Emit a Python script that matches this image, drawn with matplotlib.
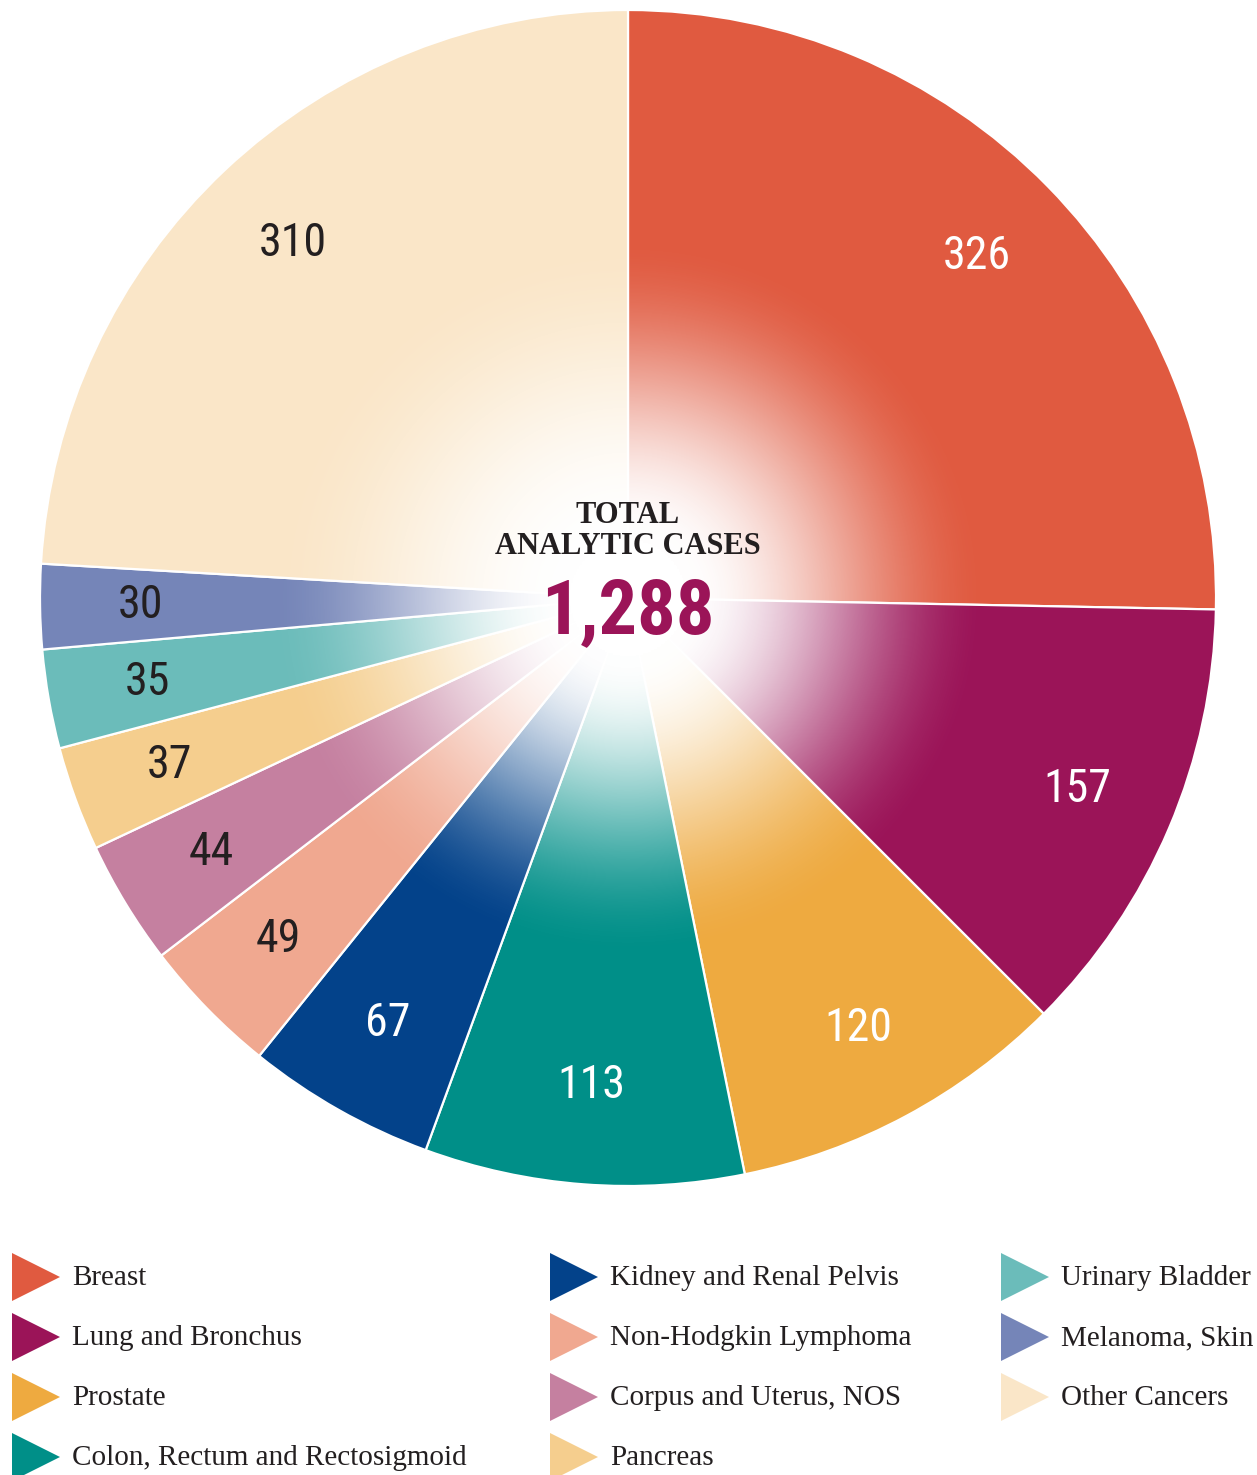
"""Total analytic cases by site: pie with white radial glow and triangle legend."""
import numpy as np
import matplotlib
matplotlib.use("Agg")
import matplotlib.pyplot as plt
from matplotlib import font_manager
from matplotlib.patches import Polygon, Circle

SITES = ["Breast", "Lung and Bronchus", "Prostate", "Colon, Rectum and Rectosigmoid",
         "Kidney and Renal Pelvis", "Non-Hodgkin Lymphoma", "Corpus and Uterus, NOS",
         "Pancreas", "Urinary Bladder", "Melanoma, Skin", "Other Cancers"]
CASES = [326, 157, 120, 113, 67, 49, 44, 37, 35, 30, 310]
COLORS = ["#E05A40", "#9B1458", "#EEAA40", "#008F88", "#03428A", "#F0A890",
          "#C580A0", "#F5CE8E", "#6BBCBA", "#7585B8", "#FAE6C8"]
LABEL_DARK = [False, False, False, False, False, True, True, True, True, True, True]
TOTAL = sum(CASES)

# pick a narrow sans if one is installed
names = {f.name for f in font_manager.fontManager.ttflist}
narrow = None
for cand in ["Liberation Sans Narrow", "Roboto Condensed", "DejaVu Sans Condensed",
             "Open Sans Condensed", "Noto Sans Display", "Roboto"]:
    if cand in names:
        narrow = cand
        break
narrow = [narrow or "Liberation Sans", "DejaVu Sans"]
serif = ["Liberation Serif", "DejaVu Serif"]

W, H = 1257, 1475
fig = plt.figure(figsize=(W / 100, H / 100), dpi=100)

# pie axes: centre (628, 598) px, radius 588 px
cx, cy, r = 628, 598, 588
ax = fig.add_axes([(cx - r) / W, (H - cy - r) / H, 2 * r / W, 2 * r / H])
wedges, texts = ax.pie(CASES, colors=COLORS, startangle=90, counterclock=False,
                       labels=[str(v) for v in CASES], labeldistance=0.83,
                       wedgeprops=dict(edgecolor="white", linewidth=1.6),
                       textprops=dict(fontsize=33, family=narrow, fontstretch="condensed"))
for t, dark in zip(texts, LABEL_DARK):
    t.set_color("#231f20" if dark else "white")
    t.set_ha("center")
    t.set_va("center")
    t.set_zorder(3)

# white radial glow at the centre
g = np.linspace(-1, 1, 800)
xx, yy = np.meshgrid(g, g)
tt = np.clip((np.hypot(xx, yy) - 0.1) / 0.52, 0, 1)
img = np.ones((800, 800, 4))
img[..., 3] = 1 - (3 * tt ** 2 - 2 * tt ** 3)
im = ax.imshow(img, extent=[-1, 1, -1, 1], zorder=1.5, interpolation="bilinear")
im.set_clip_path(Circle((0, 0), 1, transform=ax.transData))
ax.set_xlim(-1, 1)
ax.set_ylim(-1, 1)
ax.set_aspect("equal")
ax.axis("off")

fig.text(cx / W, 1 - 515 / H, "TOTAL", ha="center", va="center",
         fontsize=22, family=serif, weight="bold", color="#231f20")
fig.text(cx / W, 1 - 547 / H, "ANALYTIC CASES", ha="center", va="center",
         fontsize=22, family=serif, weight="bold", color="#231f20")
fig.text(cx / W, 1 - 613 / H, f"{TOTAL:,}", ha="center", va="center",
         fontsize=55, family=narrow, fontstretch="condensed", weight="bold",
         color="#9B1458")

# legend: column-major, 4 rows
col_x = [12, 550, 1001]
row_y = [1277, 1337, 1397, 1457]
tri = 48
for i, (name, c) in enumerate(zip(SITES, COLORS)):
    x0, y0 = col_x[i // 4], row_y[i % 4]
    pts = [(x0 / W, 1 - (y0 - tri / 2) / H), (x0 / W, 1 - (y0 + tri / 2) / H),
           ((x0 + tri) / W, 1 - y0 / H)]
    fig.add_artist(Polygon(pts, closed=True, facecolor=c, edgecolor="none",
                           transform=fig.transFigure))
    fig.text((x0 + 60) / W, 1 - (y0 + 1) / H, name, ha="left", va="center",
             fontsize=21, family=serif, color="#231f20")

fig.savefig("out.png", dpi=100)
